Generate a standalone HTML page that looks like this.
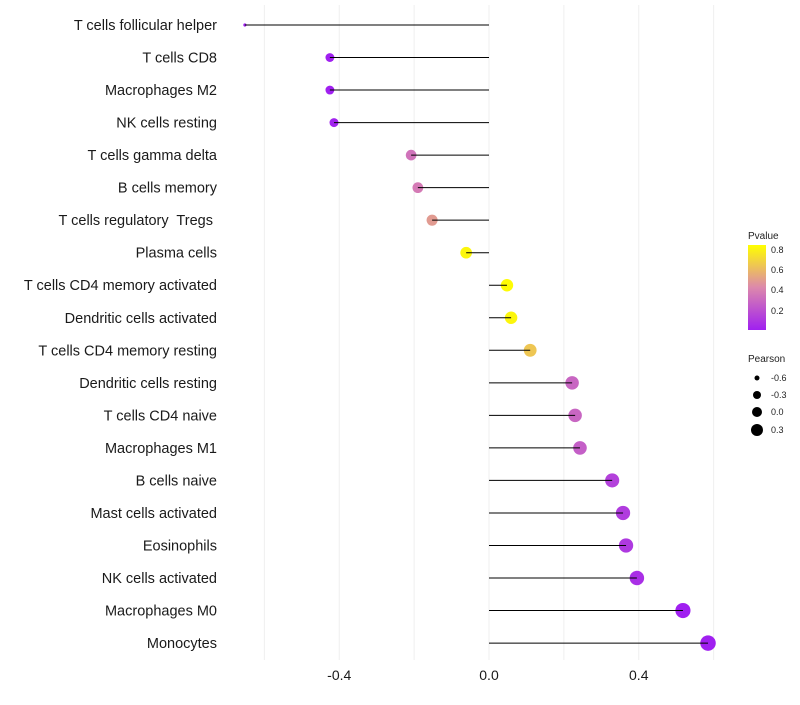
<!DOCTYPE html>
<html><head><meta charset="utf-8"><style>
body{margin:0;background:#fff;font-family:"Liberation Sans",sans-serif}
text{white-space:pre}
</style></head><body>
<svg id="chart" width="800" height="700" xmlns="http://www.w3.org/2000/svg">
<defs><linearGradient id="pg" x1="0" y1="1" x2="0" y2="0">
<stop offset="0" stop-color="#A020F0"/><stop offset="0.5" stop-color="#DC88AC"/><stop offset="1" stop-color="#FFFF00"/></linearGradient></defs>
<g id="grid"></g><g id="points"></g><g id="stems"></g><g id="labels"></g>
<g font-size="9" fill="#222">
<text x="748" y="239" font-size="10">Pvalue</text>
<rect x="748" y="245" width="18" height="85" fill="url(#pg)"/>
<text x="771" y="253">0.8</text><text x="771" y="273">0.6</text><text x="771" y="293">0.4</text><text x="771" y="314">0.2</text>
</g>
<g font-size="9" fill="#222">
<text x="748" y="362" font-size="10">Pearson</text>
<circle cx="757" cy="378" r="2.5" fill="#000"/><text x="771" y="381">-0.6</text>
<circle cx="757" cy="395" r="4" fill="#000"/><text x="771" y="398">-0.3</text>
<circle cx="757" cy="412" r="5" fill="#000"/><text x="771" y="415">0.0</text>
<circle cx="757" cy="430" r="6" fill="#000"/><text x="771" y="433">0.3</text>
</g>
</svg>
<script>
const categories=["T cells follicular helper","T cells CD8","Macrophages M2","NK cells resting","T cells gamma delta","B cells memory","T cells regulatory  Tregs ","Plasma cells","T cells CD4 memory activated","Dendritic cells activated","T cells CD4 memory resting","Dendritic cells resting","T cells CD4 naive","Macrophages M1","B cells naive","Mast cells activated","Eosinophils","NK cells activated","Macrophages M0","Monocytes"];
const pearson=[-0.652,-0.425,-0.425,-0.414,-0.208,-0.19,-0.152,-0.061,0.048,0.059,0.11,0.222,0.23,0.243,0.329,0.358,0.366,0.395,0.518,0.585];
const pvalues=[0.01,0.02,0.02,0.03,0.35,0.38,0.5,0.82,0.84,0.82,0.65,0.3,0.3,0.27,0.15,0.13,0.12,0.08,0.01,0.01];
const xTicks=[-0.4,0,0.4];
const gridVals=[-0.6,-0.4,-0.2,0,0.2,0.4,0.6];
const NS="http://www.w3.org/2000/svg";
const x=v=>489+v*374.4;
const y=i=>25+i*32.53;
const pmin=Math.min(...pearson),pmax=Math.max(...pearson);
const rad=v=>Math.sqrt(2.5+(v-pmin)/(pmax-pmin)*(52-2.5)+ (v>pmin?8:0));
function lerp(a,b,t){return a.map((c,i)=>Math.round(c+(b[i]-c)*t));}
function col(p){const t=Math.min(1,Math.max(0,(p-0.02)/0.83));
 const s0=[160,32,240],s1=[220,136,172],s2=[255,255,0];
 const c=t<0.5?lerp(s0,s1,t/0.5):lerp(s1,s2,(t-0.5)/0.5);return `rgb(${c})`;}
function mk(tag,attrs,parent){const e=document.createElementNS(NS,tag);for(const k in attrs)e.setAttribute(k,attrs[k]);parent.appendChild(e);return e;}
const grid=document.getElementById('grid'),points=document.getElementById('points'),stems=document.getElementById('stems'),labels=document.getElementById('labels');
gridVals.forEach(v=>{const l=mk('line',{x1:x(v),x2:x(v),y1:5,y2:660,stroke:'#efefef','stroke-width':1},grid);

});
categories.forEach((c,i)=>{
 const t=mk('text',{x:217,y:y(i)+5,'text-anchor':'end','font-size':14.5,fill:'#1a1a1a'},labels);t.textContent=c;
 
 
 const p=mk('circle',{cx:x(pearson[i]),cy:y(i),r:rad(pearson[i]),fill:col(pvalues[i])},points);
 
 
 const l=mk('line',{x1:x(0),x2:x(pearson[i]),y1:y(i),y2:y(i),stroke:'#000','stroke-width':1},stems);
 
 
});
xTicks.forEach(v=>{const t=mk('text',{x:x(v),y:680,'text-anchor':'middle','font-size':14,fill:'#1a1a1a'},labels);
 t.textContent=v.toFixed(1);
 
 });
</script>
</body></html>
